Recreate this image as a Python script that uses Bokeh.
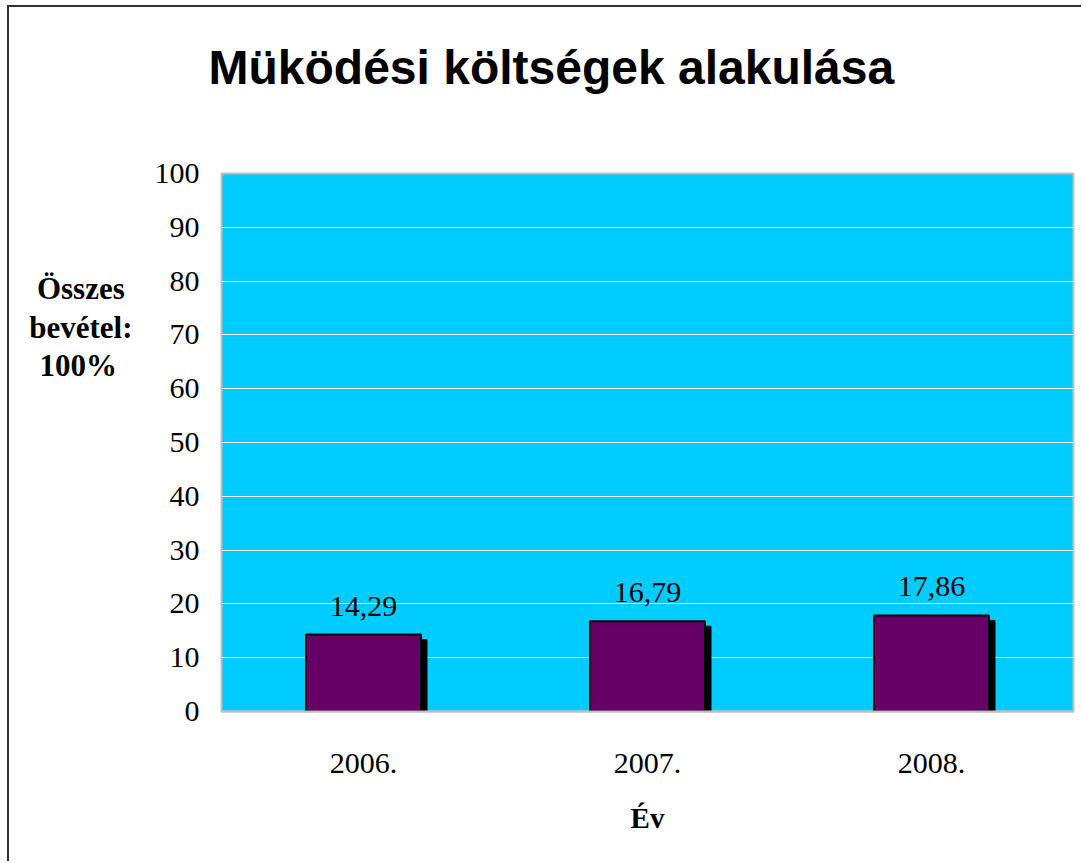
from bokeh.plotting import figure
from bokeh.models import Range1d, SingleIntervalTicker, FixedTicker, Title, ColumnDataSource
from bokeh.core.properties import value
from bokeh.embed import file_html
from bokeh.resources import INLINE

years = ["2006.", "2007.", "2008."]
costs = [14.29, 16.79, 17.86]
cost_labels = ["14,29", "16,79", "17,86"]
title_text = "Müködési költségek alakulása"
y_title_lines = ["Összes", "bevétel:", "100%"]
x_title = "Év"

W, H = 1074, 856
xpos = [i + 0.5 for i in range(len(years))]
p = figure(x_range=Range1d(0, len(years)), y_range=Range1d(0, 100),
           width=W, height=H, output_backend="svg", toolbar_location=None,
           min_border_left=212, min_border_right=10, min_border_top=166, min_border_bottom=152)
p.styles = {"margin-left": "7px", "margin-top": "5px",
            "border-left": "2px solid #303030", "border-top": "2px solid #303030"}
p.background_fill_color = "#00CCFF"
p.border_fill_color = "white"
p.outline_line_color = "#C0C0C0"
p.outline_line_width = 2

# a trailing blank line raises the title towards the top of the page
p.title = Title(text=title_text + "\n", align="left", offset=-13, standoff=54,
                vertical_align="bottom",
                text_font="Liberation Sans", text_font_style="bold",
                text_font_size="48px", text_color="black")

px_per_x = 852 / 3.0
px_per_unit = 538 / 100.0
sh_dx = 6 / px_per_x
sh_dy = 5 / px_per_unit
src = ColumnDataSource(dict(x=xpos, cost=costs, lab=cost_labels,
                            sx=[v + sh_dx for v in xpos],
                            shadow_top=[c - sh_dy for c in costs]))

p.vbar(x="sx", top="shadow_top", bottom=0, width=0.405, source=src,
       fill_color="black", line_color="black")
p.vbar(x="x", top="cost", bottom=0, width=0.405, source=src,
       fill_color="#660066", line_color="black", line_width=2)
p.text(x="x", y="cost", text="lab", source=src, text_align="center",
       text_baseline="bottom", y_offset=-19, text_font=value("Liberation Serif"),
       text_font_size="30px", text_color="black")

p.xgrid.visible = False
p.ygrid.grid_line_color = "white"
p.ygrid.grid_line_width = 1
p.yaxis.ticker = SingleIntervalTicker(interval=10)
p.xaxis.ticker = FixedTicker(ticks=xpos)
p.xaxis.major_label_overrides = {v: y for v, y in zip(xpos, years)}
for ax in (p.xaxis[0], p.yaxis[0]):
    ax.major_tick_line_color = None
    ax.minor_tick_line_color = None
    ax.major_label_text_font = "Liberation Serif"
    ax.major_label_text_font_size = "30px"
    ax.major_label_text_color = "black"
    ax.axis_label_text_font = "Liberation Serif"
    ax.axis_label_text_font_style = "bold"
    ax.axis_label_text_color = "black"
p.yaxis.axis_line_color = None
p.yaxis.major_label_standoff = 16
# the label is right-aligned: pad short lines with no-break spaces to centre them,
# and trailing blank lines lift the (vertically centred) block towards the top
pad = {"Összes": 1, "bevétel:": 0, "100%": 2}
lines = [s + "\u00a0" * pad.get(s, 0) for s in y_title_lines]
p.yaxis.axis_label = "\n".join(lines) + "\n" * 6
p.yaxis.axis_label_orientation = "horizontal"
p.yaxis.axis_label_text_font_size = "31px"
p.yaxis.axis_label_text_line_height = 1.1
p.yaxis.axis_label_standoff = 19
p.xaxis.axis_line_color = "#C0C0C0"
p.xaxis.axis_line_width = 2
p.xaxis.major_label_standoff = 36
p.xaxis.axis_label = x_title
p.xaxis.axis_label_text_font_size = "29px"
p.xaxis.axis_label_standoff = 26

open("out.html", "w").write(file_html(p, INLINE))
